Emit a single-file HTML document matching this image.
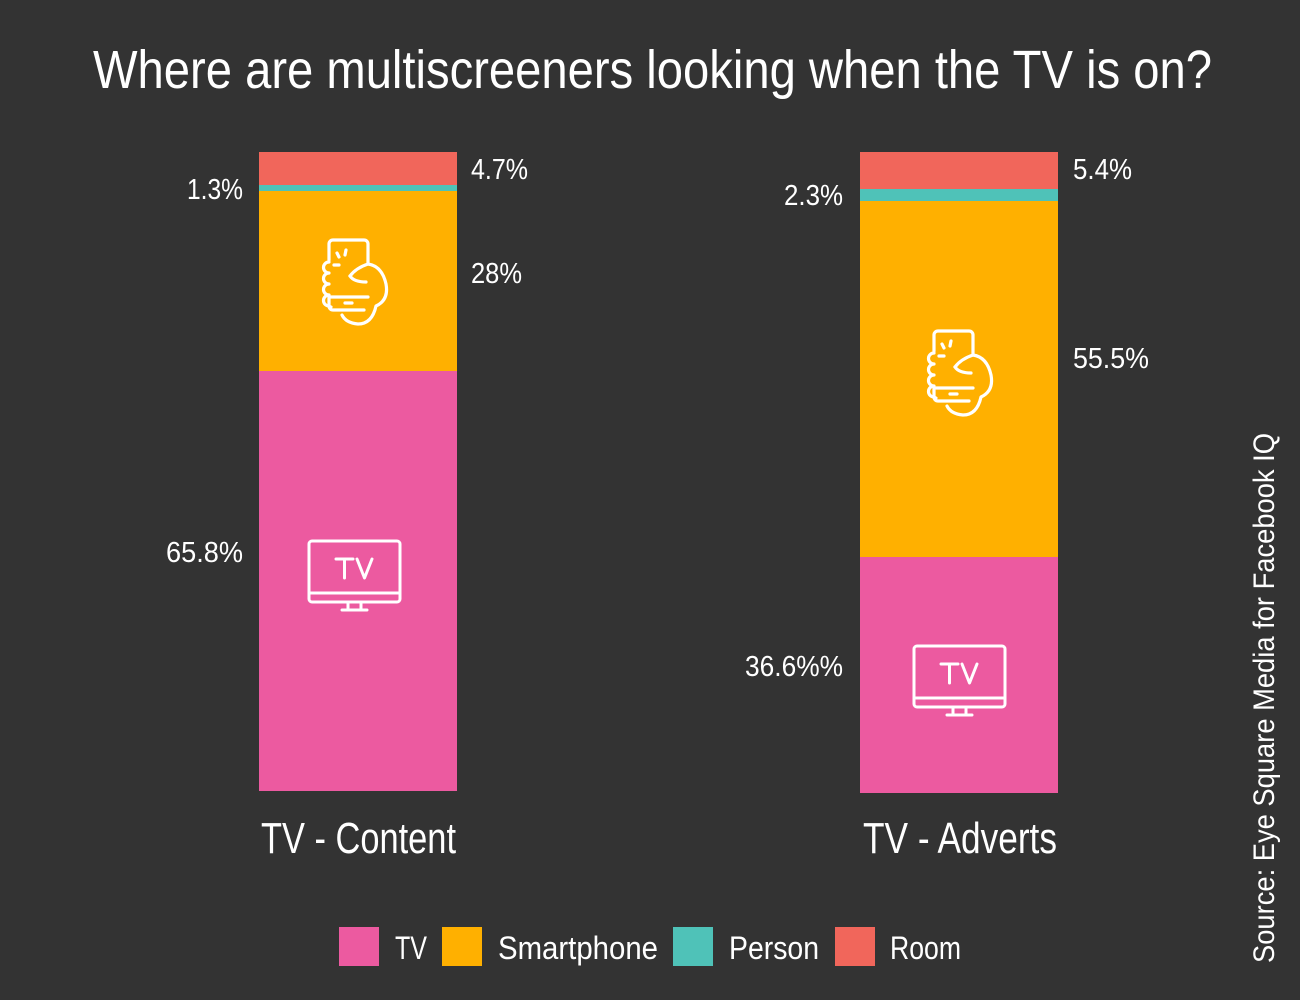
<!DOCTYPE html>
<html><head><meta charset="utf-8"><style>
html,body{margin:0;padding:0;background:#333333;}
svg{display:block}
text{font-family:"Liberation Sans Narrow","Liberation Sans",sans-serif;fill:#fff}
</style></head><body>
<svg width="1300" height="1000" viewBox="0 0 1300 1000" xmlns="http://www.w3.org/2000/svg">
<rect width="1300" height="1000" fill="#333333"/>
<defs>
<g id="phone" fill="none" stroke="#fff" stroke-width="3.2" stroke-linecap="round" stroke-linejoin="round">
  <path d="M9 20 V4 a4 4 0 0 1 4 -4 H44 a4 4 0 0 1 4 4 V24"/>
  <path d="M9 57 H48 M9 57 V66 a4 4 0 0 0 4 4 H44"/>
  <path d="M25 63 H32"/>
  <path d="M9 22 a5 5 0 0 0 0 11 a5 5 0 0 0 0 11 a5 5 0 0 0 0 11 a5 5 0 0 0 0 11 a5 5 0 0 0 2 1"/>
  <path d="M17 13 l2 4 M26 10 l-1 5 M14 25 h5"/>
  <path d="M30 36 q6 -8 18 -12 q14 2 18 20 q3 16 -10 22 q-4 18 -18 18 q-12 -1 -16 -9"/>
  <path d="M30 36 q4 6 16 6"/>
</g>
<g id="tv" fill="none" stroke="#fff" stroke-width="3" stroke-linecap="round" stroke-linejoin="round">
  <rect x="1" y="1" width="91" height="61" rx="3"/>
  <path d="M1 53 H92"/>
  <path d="M40 62 V70 M53 62 V70 M34 70 H59"/>
  <path d="M28 19 H45 M36.5 19 V38 M49 19 L56.5 38 L64 19"/>
</g>
</defs>
<text x="93" y="88" font-size="54" textLength="1119" lengthAdjust="spacingAndGlyphs">Where are multiscreeners looking when the TV is on?</text>

<rect x="259" y="152" width="198" height="33" fill="#f1665b"/>
<rect x="259" y="185" width="198" height="6" fill="#4fc2b8"/>
<rect x="259" y="191" width="198" height="180" fill="#ffb000"/>
<rect x="259" y="371" width="198" height="420" fill="#ec5aa0"/>
<use href="#phone" x="320" y="240"/>
<use href="#tv" x="308" y="540"/>

<rect x="860" y="152" width="198" height="37" fill="#f1665b"/>
<rect x="860" y="189" width="198" height="12" fill="#4fc2b8"/>
<rect x="860" y="201" width="198" height="356" fill="#ffb000"/>
<rect x="860" y="557" width="198" height="236" fill="#ec5aa0"/>
<use href="#phone" x="925" y="331"/>
<use href="#tv" x="913" y="645"/>

<g font-size="29">
<text x="471" y="179" textLength="57" lengthAdjust="spacingAndGlyphs">4.7%</text>
<text x="187" y="199" textLength="56" lengthAdjust="spacingAndGlyphs">1.3%</text>
<text x="471" y="283" textLength="51" lengthAdjust="spacingAndGlyphs">28%</text>
<text x="166" y="562" textLength="77" lengthAdjust="spacingAndGlyphs">65.8%</text>
<text x="1073" y="179" textLength="59" lengthAdjust="spacingAndGlyphs">5.4%</text>
<text x="784" y="205" textLength="59" lengthAdjust="spacingAndGlyphs">2.3%</text>
<text x="1073" y="368" textLength="76" lengthAdjust="spacingAndGlyphs">55.5%</text>
<text x="745" y="676" textLength="98" lengthAdjust="spacingAndGlyphs">36.6%%</text>
</g>
<g font-size="44">
<text x="261" y="853" textLength="195" lengthAdjust="spacingAndGlyphs">TV - Content</text>
<text x="863" y="853" textLength="194" lengthAdjust="spacingAndGlyphs">TV - Adverts</text>
</g>
<rect x="339" y="927" width="40" height="39" fill="#ec5aa0"/>
<rect x="442" y="927" width="40" height="39" fill="#ffb000"/>
<rect x="673" y="927" width="40" height="39" fill="#4fc2b8"/>
<rect x="835" y="927" width="40" height="39" fill="#f1665b"/>
<g font-size="32">
<text x="395" y="959" textLength="32" lengthAdjust="spacingAndGlyphs">TV</text>
<text x="498" y="959" textLength="160" lengthAdjust="spacingAndGlyphs">Smartphone</text>
<text x="729" y="959" textLength="90" lengthAdjust="spacingAndGlyphs">Person</text>
<text x="890" y="959" textLength="71" lengthAdjust="spacingAndGlyphs">Room</text>
</g>
<text transform="translate(1274,963) rotate(-90)" font-size="30" textLength="530" lengthAdjust="spacingAndGlyphs">Source: Eye Square Media for Facebook IQ</text>
</svg>
</body></html>
